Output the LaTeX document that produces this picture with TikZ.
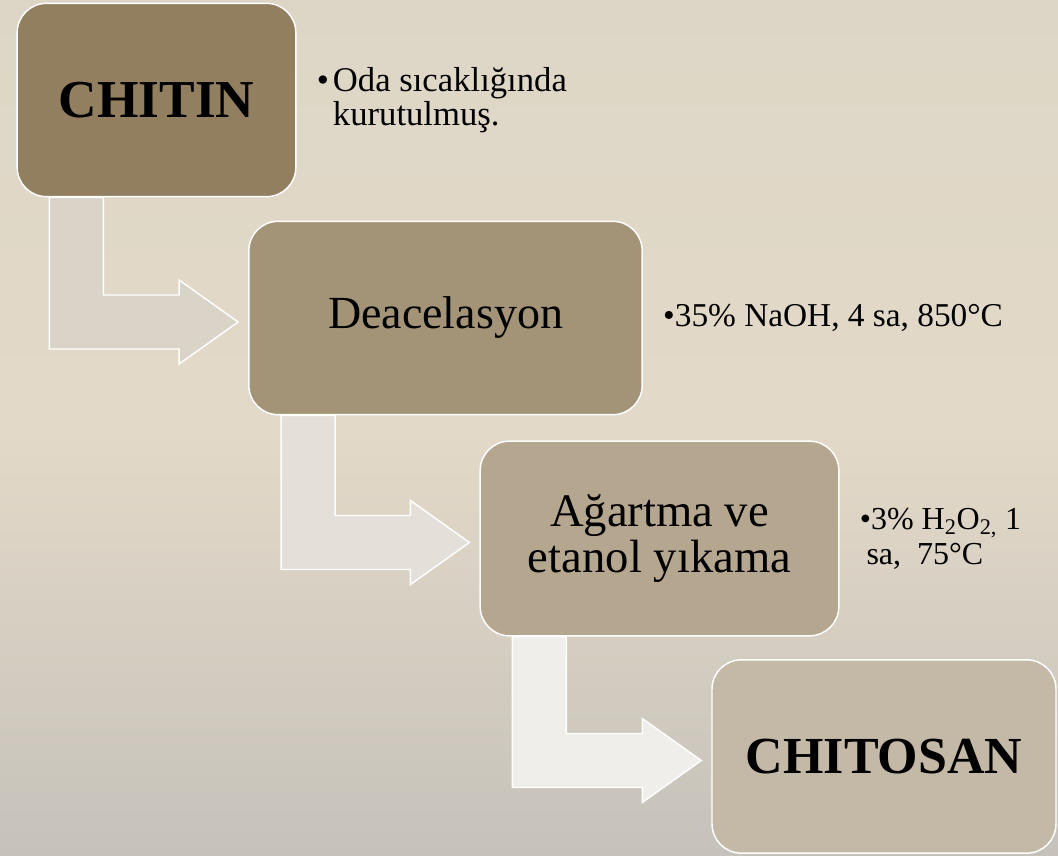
\documentclass[tikz,border=0pt]{standalone}
\usepackage{fontspec}
\setmainfont{Liberation Serif}
\usetikzlibrary{positioning,calc}

\definecolor{bgtop}{HTML}{DDD6C6}
\definecolor{bgmid}{HTML}{E3D9C8}
\definecolor{bgbot}{HTML}{C6C2BA}
\definecolor{boxA}{HTML}{917F60}
\definecolor{boxB}{HTML}{A39477}
\definecolor{boxC}{HTML}{B5A68F}
\definecolor{boxD}{HTML}{C4B9A7}
\definecolor{arrA}{HTML}{DAD3C8}
\definecolor{arrB}{HTML}{E4DFD8}
\definecolor{arrC}{HTML}{F0EEEA}

\begin{document}
\begin{tikzpicture}[x=0.75pt, y=-0.75pt,
  stepbox/.style={draw=white, line width=1.1pt, rounded corners=22pt,
                  align=center, inner sep=4pt, text=black},
  note/.style={align=left, inner sep=0pt, text=black},
  bent/.style={draw=white, line width=1.1pt, line join=miter},
]
% background
\useasboundingbox (0,0) rectangle (1058,856);
\shade[top color=bgtop, bottom color=bgbot, middle color=bgmid] (0,0) rectangle (1058,856);

% steps
\node[stepbox, fill=boxA, minimum width=209pt, minimum height=145pt,
      font=\fontsize{40}{44}\selectfont\bfseries] (chitin) at (156.5,100) {CHITIN};
\node[stepbox, fill=boxB, minimum width=295pt, minimum height=145pt,
      font=\fontsize{34.5}{40}\selectfont] (deac) at (445.5,318) {Deacelasyon};
\node[stepbox, fill=boxC, minimum width=269pt, minimum height=146pt,
      font=\fontsize{35}{35}\selectfont] (agar) at (659.5,538.5) {Ağartma ve\\etanol yıkama};
\node[stepbox, fill=boxD, minimum width=258pt, minimum height=145pt,
      font=\fontsize{39}{44}\selectfont\bfseries] (chitosan) at (884,756.5) {CHITOSAN};

% conditions
\node[note, font=\fontsize{26}{26}\selectfont, right=15pt of chitin] (dry)
  {\textbullet\hspace{3pt}Oda sıcaklığında\\\hphantom{\textbullet\hspace{3pt}}kurutulmuş.};
\node[note, font=\fontsize{25}{30}\selectfont, right=15pt of deac] (naoh)
  {\textbullet 35\% NaOH, 4 sa, 850°C};
\node[note, font=\fontsize{24}{26}\selectfont, right=15pt of agar] (hoo)
  {\textbullet 3\% H\textsubscript{2}O\textsubscript{2,} 1\\\hspace*{5pt}sa,\ \ 75°C};

% bent arrows
\coordinate (s1) at ($(chitin.south west)+(33,0)$);
\coordinate (t1) at ($(deac.west)+(-10,4)$);
\draw[bent, fill=arrA] (s1) |- ($(t1)+(-59,27)$) -- ++(0,15) -- (t1)
  -- ($(t1)+(-59,-42)$) -- ++(0,15) -| ($(s1)+(54,0)$) -- cycle;

\coordinate (s2) at ($(deac.south west)+(33,0)$);
\coordinate (t2) at ($(agar.west)+(-10,4)$);
\draw[bent, fill=arrB] (s2) |- ($(t2)+(-59,27)$) -- ++(0,15) -- (t2)
  -- ($(t2)+(-59,-42)$) -- ++(0,15) -| ($(s2)+(54,0)$) -- cycle;

\coordinate (s3) at ($(agar.south west)+(33,0)$);
\coordinate (t3) at ($(chitosan.west)+(-10,4)$);
\draw[bent, fill=arrC] (s3) |- ($(t3)+(-59,27)$) -- ++(0,15) -- (t3)
  -- ($(t3)+(-59,-42)$) -- ++(0,15) -| ($(s3)+(54,0)$) -- cycle;
\end{tikzpicture}
\end{document}
